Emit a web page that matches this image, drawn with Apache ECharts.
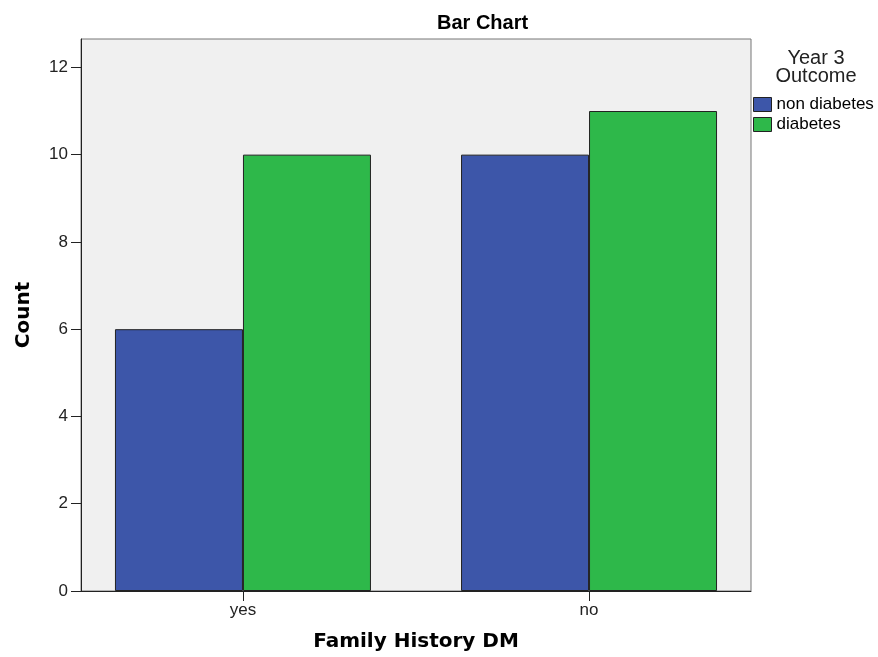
<!DOCTYPE html>
<html><head><meta charset="utf-8">
<script src="https://cdn.jsdelivr.net/npm/echarts@6/dist/echarts.min.js"></script>
<style>html,body{margin:0;padding:0;background:#fff}#c{width:878px;height:657px}</style>
</head><body><div id="c"></div>
<script>
const categories = ['yes', 'no'];
const seriesNames = ['non diabetes', 'diabetes'];
const nonDiabetes = [6, 10];
const diabetes = [10, 11];
const yTicks = [0, 2, 4, 6, 8, 10, 12];

const font = 'Liberation Sans, Arial, sans-serif';
const wide = 'DejaVu Sans, sans-serif';
const chart = echarts.init(document.getElementById('c'));
const pos = categories.map((c, i) => i);
chart.setOption({
  animation: false,
  title: [
    {text: 'Bar Chart', left: 437, top: 13, padding: 0, textStyle: {fontFamily: font, fontSize: 20, fontWeight: 'bold', color: '#000'}},
    {text: 'Year 3\nOutcome', left: 816, top: 49, padding: 0, textAlign: 'center',
     textStyle: {fontFamily: font, fontSize: 20, fontWeight: 'normal', color: '#222', lineHeight: 18}}
  ],
  legend: {
    orient: 'vertical', left: 753, top: 96, padding: 0, itemWidth: 18, itemHeight: 14, itemGap: 3,
    icon: 'rect', data: seriesNames,
    textStyle: {fontFamily: font, fontSize: 17, color: '#000'},
    itemStyle: {borderColor: '#222', borderWidth: 1}
  },
  grid: {left: 81, top: 39, width: 670, height: 553, show: true, backgroundColor: '#f0f0f0', borderColor: '#777', borderWidth: 1},
  xAxis: {
    type: 'value', min: -0.468, max: 1.468,
    name: 'Family History DM', nameLocation: 'middle', nameGap: 41,
    nameTextStyle: {fontFamily: wide, fontSize: 20, fontWeight: 'bold', color: '#000'},
    splitLine: {show: false},
    axisLine: {show: true, onZero: false, lineStyle: {color: '#222', width: 1}},
    axisTick: {show: true, customValues: pos, length: 10, inside: false, lineStyle: {color: '#222'}},
    axisLabel: {customValues: pos, formatter: v => categories[Math.round(v)], fontFamily: font, fontSize: 17, color: '#222', margin: 11}
  },
  yAxis: {
    type: 'value', min: 0, max: 12.65, interval: 2,
    name: 'Count', nameLocation: 'middle', nameGap: 47,
    nameTextStyle: {fontFamily: wide, fontSize: 20, fontWeight: 'bold', color: '#000'},
    splitLine: {show: false},
    axisLine: {show: true, onZero: false, lineStyle: {color: '#222', width: 1}},
    axisTick: {show: true, customValues: yTicks, length: 10, inside: false, lineStyle: {color: '#222'}},
    axisLabel: {customValues: yTicks, fontFamily: font, fontSize: 17, color: '#222', margin: 13}
  },
  series: [
    {name: seriesNames[0], type: 'bar', barWidth: 128, barGap: '0%',
     data: pos.map(i => [i, nonDiabetes[i]]),
     itemStyle: {color: '#3d56a9', borderColor: '#222', borderWidth: 1}},
    {name: seriesNames[1], type: 'bar', barWidth: 128, barGap: '0%',
     data: pos.map(i => [i, diabetes[i]]),
     itemStyle: {color: '#2eb84a', borderColor: '#222', borderWidth: 1}}
  ]
});
</script></body></html>
